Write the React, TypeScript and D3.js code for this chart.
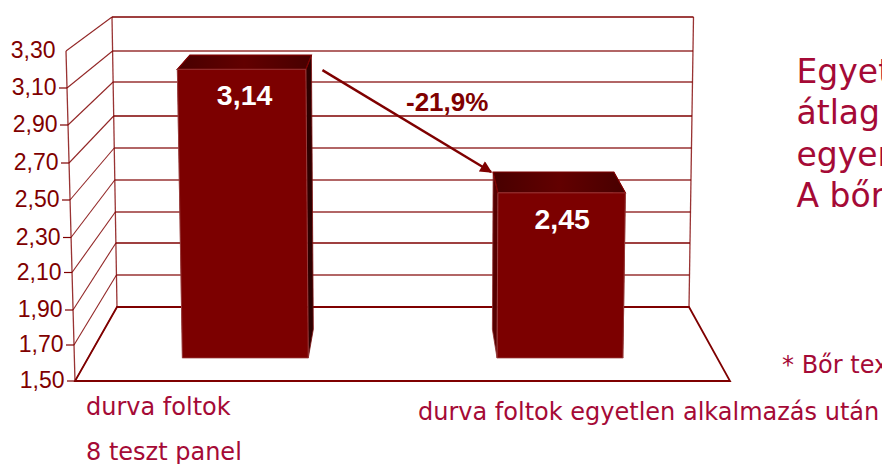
import React from 'react';
import * as d3 from 'd3';

// Values
const categories = ['durva foltok', 'durva foltok egyetlen alkalmazás után'];
const values = [3.14, 2.45];
const valueLabels = ['3,14', '2,45'];
const ticks = [1.5, 1.7, 1.9, 2.1, 2.3, 2.5, 2.7, 2.9, 3.1, 3.3];
const sideLines = ['Egyet', 'átlag', 'egyen', 'A bőr'];
// gridlines that came out crisp in the original, the rest are washed out
const crispTicks = [1.5, 1.9, 2.7];

const WIDTH = 882;
const HEIGHT = 464;
const DARK = '#7f0000';
const WINE = '#a50a36';
const VMIN = 1.5;
const VMAX = 3.3;
const BAR_FRONT = 0.31;
const BAR_BACK = 0.7;

// 3D box: front plane and back plane each get their own scale
const yFront = d3.scaleLinear().domain(ticks).range([381, 345, 310, 272.5, 237.5, 200, 163, 125, 88, 51]);
const yBack = d3.scaleLinear().domain(ticks).range([307, 275, 243, 212, 180, 148, 116, 82, 51, 17]);
const leftFront = d3.scaleLinear().domain([VMIN, VMAX]).range([75, 66]);
const leftBack = d3.scaleLinear().domain([VMIN, VMAX]).range([117, 112]);
const rightFront = d3.scaleLinear().domain([VMIN, VMAX]).range([730, 738]);
const rightBack = d3.scaleLinear().domain([VMIN, VMAX]).range([689, 693.5]);

const band = d3.scaleBand<string>().domain(categories).range([0, 1]).paddingInner(0.6).paddingOuter(0.3);

type Pt = [number, number];

// u: 0..1 across the floor, v: data value, depth: 0 front .. 1 back wall
const project = (u: number, v: number, depth: number): Pt => {
  const left = d3.interpolateNumber(leftFront(v), leftBack(v))(depth);
  const right = d3.interpolateNumber(rightFront(v), rightBack(v))(depth);
  const y = d3.interpolateNumber(yFront(v), yBack(v))(depth);
  return [left + u * (right - left), y];
};

const poly = (pts: Pt[]) => d3.line()(pts) + 'Z';

const Bar = ({ i }: { i: number }) => {
  const name = categories[i];
  const v = values[i];
  const u0 = band(name) as number;
  const u1 = u0 + band.bandwidth();
  const ftl = project(u0, v, BAR_FRONT);
  const ftr = project(u1, v, BAR_FRONT);
  const fbl = project(u0, VMIN, BAR_FRONT);
  const fbr = project(u1, VMIN, BAR_FRONT);
  const btl = project(u0, v, BAR_BACK);
  const btr = project(u1, v, BAR_BACK);
  const bbl = project(u0, VMIN, BAR_BACK);
  const bbr = project(u1, VMIN, BAR_BACK);
  return (
    <g>
      <path d={poly([ftl, btl, bbl, fbl])} fill="#560000" stroke="#8f3030" strokeWidth={0.8} />
      <path d={poly([ftr, btr, bbr, fbr])} fill="#2e0000" stroke="#7f1010" strokeWidth={0.8} />
      <path d={poly([ftl, btl, btr, ftr])} fill="url(#barTop)" stroke={DARK} strokeWidth={1.2} />
      <path d={poly([ftl, ftr, fbr, fbl])} fill="#7c0000" stroke="#a04a4a" strokeWidth={0.7} />
      <text
        x={(ftl[0] + ftr[0]) / 2 + (i === 0 ? 3 : 0.5)}
        y={ftl[1] + 36}
        textAnchor="middle"
        fontFamily="Liberation Sans"
        fontWeight="bold"
        fontSize={28.5}
        fill="#fff"
      >
        {valueLabels[i]}
      </text>
    </g>
  );
};

export default function App() {
  const arrowFrom = project((band(categories[0]) as number) + band.bandwidth(), values[0], BAR_BACK);
  const arrowTo = project(band(categories[1]) as number, values[1], BAR_BACK);

  return (
    <svg
      width={WIDTH}
      height={HEIGHT}
      viewBox={`0 0 ${WIDTH} ${HEIGHT}`}
      style={{ position: 'fixed', left: 0, top: 0, display: 'block', background: '#fff' }}
    >
      <defs>
        <linearGradient id="barTop" x1="0" x2="1" y1="0" y2="0">
          <stop offset="0" stopColor="#480000" />
          <stop offset="0.5" stopColor="#620000" />
          <stop offset="1" stopColor="#480000" />
        </linearGradient>
        <marker id="head" viewBox="0 0 10 10" refX="9" refY="5" markerWidth="5.5" markerHeight="5" orient="auto">
          <path d="M0,0L10,5L0,10Z" fill={DARK} />
        </marker>
      </defs>

      {/* walls and grid */}
      {ticks.map(t => {
        const fl = project(0, t, 0);
        const bl = project(0, t, 1);
        const br = project(1, t, 1);
        const crisp = crispTicks.includes(t) || t === VMAX;
        return (
          <g key={t} stroke={DARK} fill="none">
            <line x1={fl[0]} y1={fl[1]} x2={bl[0]} y2={bl[1]} strokeWidth={1.1} opacity={0.85} />
            <line
              x1={bl[0]}
              y1={bl[1]}
              x2={br[0]}
              y2={br[1]}
              strokeWidth={crisp ? 1.4 : 1.9}
              opacity={crisp ? 1 : 0.6}
            />
            {t < VMAX && <line x1={fl[0] - 8} y1={fl[1]} x2={fl[0]} y2={fl[1]} strokeWidth={1.2} />}
          </g>
        );
      })}
      {(() => {
        const extra = [
          [project(0, VMIN, 0), project(0, VMAX, 0)],
          [project(0, VMIN, 1), project(0, VMAX, 1)],
          [project(1, VMIN, 1), project(1, VMAX, 1)],
        ];
        return extra.map((seg, k) => (
          <path key={k} d={d3.line()(seg as Pt[]) as string} stroke={DARK} strokeWidth={1.3} fill="none" opacity={0.8} />
        ));
      })()}
      <path
        d={d3.line()([project(0, VMIN, 0), project(1, VMIN, 0), project(1, VMIN, 1), project(0, VMIN, 1)]) + 'Z'}
        fill="none"
        stroke={DARK}
        strokeWidth={1.8}
      />

      {ticks.map(t => {
        const fl = project(0, t, 0);
        return (
          <text
            key={t}
            x={fl[0] - 10.5}
            y={fl[1] - 1}
            dy="0.36em"
            textAnchor="end"
            fontFamily="Liberation Sans"
            fontSize={23}
            fill={DARK}
          >
            {d3.format('.2f')(t).replace('.', ',')}
          </text>
        );
      })}

      {categories.map((_, i) => (
        <Bar key={i} i={i} />
      ))}

      {/* change arrow between the two bars */}
      <line
        x1={arrowFrom[0] + 11}
        y1={arrowFrom[1] + 15}
        x2={arrowTo[0] - 2}
        y2={arrowTo[1]}
        stroke={DARK}
        strokeWidth={2.4}
        markerEnd="url(#head)"
      />
      <text x={406} y={111} fontFamily="Liberation Sans" fontWeight="bold" fontSize={26} fill={DARK}>
        -21,9%
      </text>

      {/* category labels */}
      <g fontFamily="DejaVu Sans" fill={WINE}>
        <text x={86} y={415} fontSize={24}>{categories[0]}</text>
        <text x={86} y={460} fontSize={24}>8 teszt panel</text>
        <text x={418} y={420} fontSize={24}>{categories[1]}</text>
        <text x={782} y={373} fontSize={24}>* Bőr tex</text>
        {sideLines.map((line, i) => (
          <text key={line} x={796.5} y={83 + i * 41.3} fontSize={33}>{line}</text>
        ))}
      </g>
    </svg>
  );
}
